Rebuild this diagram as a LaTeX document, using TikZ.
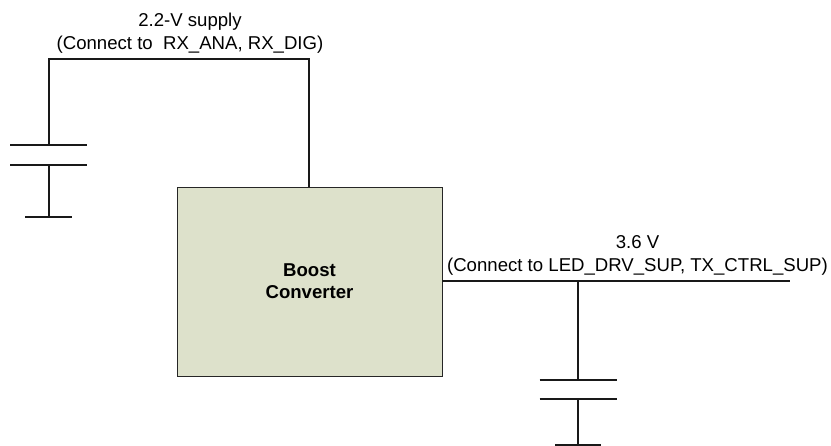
\documentclass[tikz,border=0pt]{standalone}
\usepackage{fontspec}
\setmainfont{Liberation Sans}
\usetikzlibrary{positioning}
\definecolor{boxfill}{RGB}{221,225,203}
\begin{document}
\begin{tikzpicture}[x=1pt,y=-1pt,
  wire/.style={line width=1.5pt,black!90},
  plate/.style={line width=1.5pt,black!90},
  conv/.style={draw=black!85,line width=0.8pt,fill=boxfill,align=center,font=\fontsize{18.6}{22}\selectfont\bfseries,
               minimum width=265pt,minimum height=189pt,inner sep=0pt},
  lbl/.style={align=center,font=\fontsize{18.6}{23}\selectfont,inner sep=0pt}
]
\useasboundingbox (0,0) rectangle (831,445);
\node[conv] (boost) at (309.5,281.5) {Boost\\Converter};

% 2.2 V side
\coordinate (topright) at (309,59);
\coordinate (topleft) at (49,59);
\coordinate (plateA) at (49,145);
\coordinate (plateB) at (49,165);
\coordinate (gndA) at (49,217);
\draw[wire] (boost.north -| topright) -- (topright) -- (topleft) -- (plateA);
\draw[plate] (10,145) -- (87,145);
\draw[plate] (10,165) -- (87,165);
\draw[wire] (plateB) -- (gndA);
\draw[plate] (25,217) -- (72,217);
\node[lbl] (supA) at (190,33.5) {2.2-V supply\\(Connect to\ \ RX\_ANA, RX\_DIG)};

% 3.6 V side
\coordinate (outend) at (790,281);
\coordinate (tee) at (578,281);
\coordinate (plateC) at (578,380);
\coordinate (plateD) at (578,399);
\coordinate (gndB) at (578,444.5);
\draw[wire] (boost.east |- tee) -- (outend);
\draw[wire] (tee) -- (plateC);
\draw[plate] (539.5,380) -- (616.5,380);
\draw[plate] (539.5,399) -- (616.5,399);
\draw[wire] (plateD) -- (gndB);
\draw[plate] (555,445) -- (601,445);
\node[lbl] (supB) at (637.5,255) {3.6 V\\(Connect to LED\_DRV\_SUP, TX\_CTRL\_SUP)};
\end{tikzpicture}
\end{document}
